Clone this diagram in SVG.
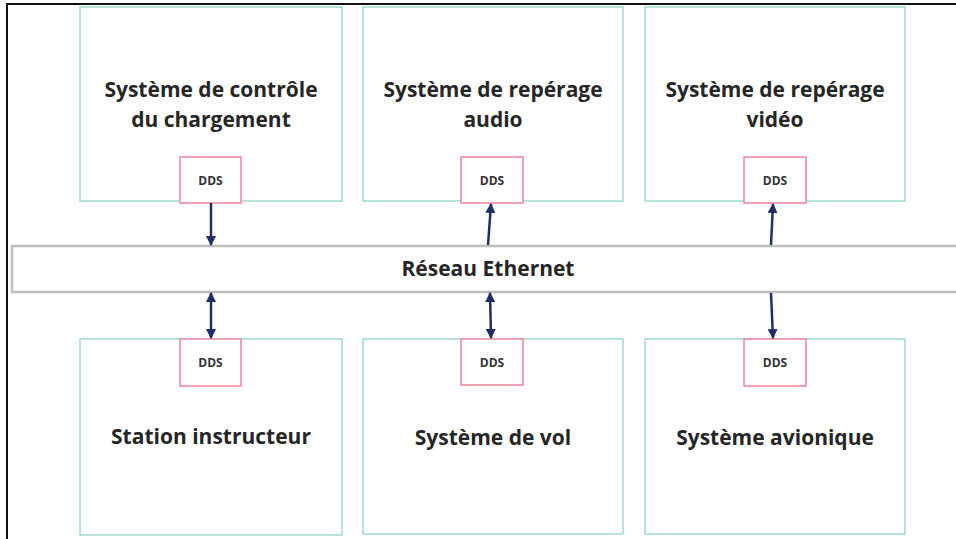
<svg xmlns="http://www.w3.org/2000/svg" width="956" height="539" viewBox="0 0 956 539">
<style>
.sys{fill:#ffffff;stroke:#9edcc6;stroke-width:1.5}
.dds{fill:#ffffff;stroke:#ee8499;stroke-width:1.5}
.t{font-family:"Open Sans","Liberation Sans",sans-serif;font-weight:bold;font-size:21px;fill:#262626;text-anchor:middle}
.d{font-family:"Open Sans","Liberation Sans",sans-serif;font-weight:bold;font-size:12px;fill:#333;text-anchor:middle}
.c{stroke:#1f2d6b;stroke-width:2.5;fill:none}
</style>
<defs>
<marker id="ah" viewBox="0 0 10 10" refX="9" refY="5" markerWidth="4" markerHeight="4" orient="auto-start-reverse">
<path d="M0,0 L10,5 L0,10 z" fill="#1f2d6b"/>
</marker>
</defs>
<rect x="0" y="0" width="956" height="539" fill="#ffffff"/>
<rect x="7" y="4" width="960" height="545" fill="none" stroke="#111" stroke-width="2"/>

<g id="bus">
<rect x="12" y="246" width="960" height="46" fill="#ffffff" stroke="#bdbdbd" stroke-width="2.5"/>
<text class="t" x="488" y="276">Réseau Ethernet</text>
</g>

<g id="n1">
<rect class="sys" x="80" y="7" width="262" height="194"/>
<text class="t" x="211" y="97">Système de contrôle</text>
<text class="t" x="211" y="127">du chargement</text>
<rect class="dds" x="180" y="157" width="61" height="46"/>
<text class="d" x="210.5" y="185">DDS</text>
</g>
<g id="n2">
<rect class="sys" x="363" y="7" width="260" height="194"/>
<text class="t" x="493" y="97">Système de repérage</text>
<text class="t" x="493" y="127">audio</text>
<rect class="dds" x="461" y="157" width="62" height="46"/>
<text class="d" x="492" y="185">DDS</text>
</g>
<g id="n3">
<rect class="sys" x="645" y="7" width="260" height="194"/>
<text class="t" x="775" y="97">Système de repérage</text>
<text class="t" x="775" y="127">vidéo</text>
<rect class="dds" x="744" y="157" width="62" height="46"/>
<text class="d" x="775" y="185">DDS</text>
</g>
<g id="n4">
<rect class="sys" x="80" y="339" width="262" height="196"/>
<rect class="dds" x="180" y="339" width="61" height="47"/>
<text class="d" x="210.5" y="367">DDS</text>
<text class="t" x="211" y="444">Station instructeur</text>
</g>
<g id="n5">
<rect class="sys" x="363" y="339" width="260" height="195"/>
<rect class="dds" x="461" y="339" width="62" height="46"/>
<text class="d" x="492" y="367">DDS</text>
<text class="t" x="493" y="445">Système de vol</text>
</g>
<g id="n6">
<rect class="sys" x="645" y="339" width="260" height="195"/>
<rect class="dds" x="744" y="339" width="62" height="47"/>
<text class="d" x="775" y="367">DDS</text>
<text class="t" x="775" y="445">Système avionique</text>
</g>

<g id="connectors">
<line class="c" x1="211" y1="203" x2="211" y2="245" marker-end="url(#ah)"/>
<line class="c" x1="488" y1="245" x2="491" y2="204" marker-end="url(#ah)"/>
<line class="c" x1="771" y1="245" x2="773" y2="204" marker-end="url(#ah)"/>
<line class="c" x1="211" y1="293" x2="211" y2="338" marker-start="url(#ah)" marker-end="url(#ah)"/>
<line class="c" x1="490" y1="293" x2="491" y2="338" marker-start="url(#ah)" marker-end="url(#ah)"/>
<line class="c" x1="771" y1="293" x2="773" y2="338" marker-end="url(#ah)"/>
</g>
</svg>
